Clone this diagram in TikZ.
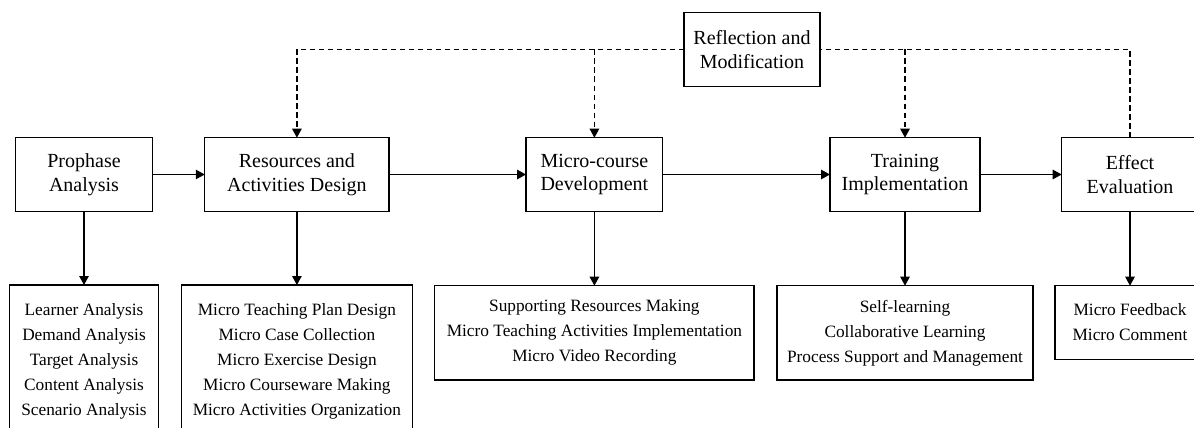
\documentclass[tikz,border=0pt]{standalone}
\usepackage{fontspec}
\setmainfont{Liberation Serif}
\usetikzlibrary{arrows.meta}
\begin{document}
\begin{tikzpicture}[x=1pt,y=-1pt,
  box/.style={draw, line width=1.25pt, inner sep=0pt, outer sep=0pt, align=center},
  topbox/.style={box, font=\fontsize{20}{23.5}\selectfont, minimum height=73.6pt},
  subbox/.style={box, font=\fontsize{17.3}{25}\selectfont},
  arr/.style={line width=1.25pt, -{Triangle[length=9pt,width=9.5pt]}},
  dsh/.style={line width=1.25pt, dash pattern=on 5.5pt off 3.5pt},
  darr/.style={dsh, -{Triangle[length=9pt,width=9.5pt]}}]
\clip (0,0) rectangle (1194,428);
\fill[white] (0,0) rectangle (1194,428);
% top row
\node[topbox, minimum width=136.3pt] (pa) at (84,174.5) {Prophase\\Analysis};
\node[topbox, minimum width=184.3pt] (rad) at (296.9,174.5) {Resources and\\Activities Design};
\node[topbox, minimum width=136.7pt] (mcd) at (594.4,174.5) {Micro-course\\Development};
\node[topbox, minimum width=150pt] (ti) at (905,174.5) {Training\\Implementation};
\node[topbox, minimum width=136.6pt] (ee) at (1130,174.5) {Effect\\Evaluation};
\node[topbox, minimum width=136pt, minimum height=74.4pt] (rm) at (752,49.5) {Reflection and\\Modification};
% bottom row
\node[subbox, minimum width=149.7pt, minimum height=152pt] (s1) at (84,361) {Learner Analysis\\Demand Analysis\\Target Analysis\\Content Analysis\\Scenario Analysis};
\node[subbox, minimum width=231pt, minimum height=152pt] (s2) at (296.9,361) {Micro Teaching Plan Design\\Micro Case Collection\\Micro Exercise Design\\Micro Courseware Making\\Micro Activities Organization};
\node[subbox, minimum width=319.3pt, minimum height=94.3pt] (s3) at (594.4,332.85) {Supporting Resources Making\\Micro Teaching Activities Implementation\\Micro Video Recording};
\node[subbox, minimum width=256pt, minimum height=94.3pt] (s4) at (905,332.85) {Self-learning\\Collaborative Learning\\Process Support and Management};
\node[subbox, minimum width=150pt, minimum height=73.6pt] (s5) at (1130,322.5) {Micro Feedback\\Micro Comment};
% main flow
\draw[arr] (pa) -- (rad);
\draw[arr] (rad) -- (mcd);
\draw[arr] (mcd) -- (ti);
\draw[arr] (ti) -- (ee);
% down arrows
\draw[arr] (pa) -- (s1);
\draw[arr] (rad) -- (s2);
\draw[arr] (mcd) -- (s3);
\draw[arr] (ti) -- (s4);
\draw[arr] (ee) -- (s5);
% feedback
\draw[dsh] (ee.north) |- (rm.east);
\draw[darr] (rm.west) -| (rad.north);
\draw[darr] (ti.north |- rm.east) -- (ti.north);
\draw[darr] (mcd.north |- rm.west) -- (mcd.north);
\end{tikzpicture}
\end{document}
